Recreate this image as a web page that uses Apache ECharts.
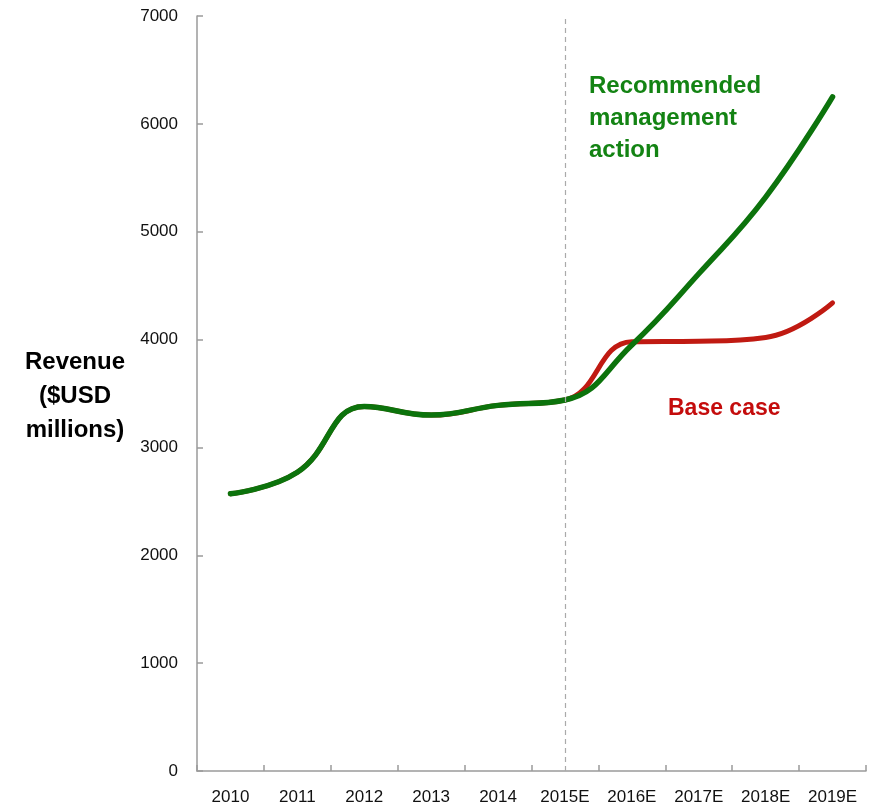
<!DOCTYPE html>
<html>
<head>
<meta charset="utf-8">
<style>
  html, body { margin: 0; padding: 0; background: #fff; }
  #chart { width: 877px; height: 807px; }
</style>
<script src="https://cdn.jsdelivr.net/npm/echarts@6/dist/echarts.min.js"></script>
</head>
<body>
<div id="chart"></div>
<script>
// Years on the horizontal axis (E = estimate)
const years = ['2010', '2011', '2012', '2013', '2014', '2015E', '2016E', '2017E', '2018E', '2019E'];

// Revenue, $USD millions
const baseCase = [2570, 2770, 3380, 3300, 3390, 3440, 3980, 3985, 4020, 4340];
const recommended = [2570, 2770, 3380, 3300, 3390, 3440, 3950, 4610, 5320, 6250];

// Value-axis ticks
const yMin = 0, yMax = 7000, yStep = 1000;

const GREEN = '#0c730c';
const RED = '#c01a12';
const AXIS = '#9a9a9a';
const FONT = '"Liberation Sans", Arial, sans-serif';

const chart = echarts.init(document.getElementById('chart'));
chart.setOption({
  animation: false,
  backgroundColor: '#fff',
  grid: { left: 197, right: 11, top: 16, bottom: 36, containLabel: false },
  xAxis: {
    type: 'category',
    data: years,
    boundaryGap: true,
    axisLine: { lineStyle: { color: AXIS, width: 1.5 } },
    axisTick: { show: true, inside: true, length: 6, alignWithLabel: false, lineStyle: { color: AXIS, width: 1.5 } },
    axisLabel: { color: '#111', fontFamily: FONT, fontSize: 17, margin: 18 },
    splitLine: { show: false }
  },
  yAxis: {
    type: 'value',
    min: yMin, max: yMax, interval: yStep,
    axisLine: { show: true, lineStyle: { color: AXIS, width: 1.5 } },
    axisTick: { show: true, inside: true, length: 6, lineStyle: { color: AXIS, width: 1.5 } },
    axisLabel: { color: '#111', fontFamily: FONT, fontSize: 17, margin: 19, formatter: v => String(v) },
    splitLine: { show: false }
  },
  series: [
    {
      name: 'Base case',
      type: 'line',
      data: baseCase,
      smooth: 0.45,
      symbol: 'none',
      z: 2,
      lineStyle: { color: RED, width: 5, cap: 'round' }
    },
    {
      name: 'Recommended management action',
      type: 'line',
      data: recommended,
      smooth: 0.45,
      symbol: 'none',
      z: 3,
      lineStyle: { color: GREEN, width: 5.5, cap: 'round' },
      markLine: {
        silent: true,
        symbol: 'none',
        label: { show: false },
        lineStyle: { color: '#aaaaaa', type: [5, 4], width: 1.2 },
        data: [{ xAxis: '2015E' }]
      }
    }
  ],
  graphic: [
    {
      type: 'text', x: 75, y: 345,
      style: {
        text: 'Revenue\n($USD\nmillions)',
        fill: '#000', font: 'bold 24px ' + FONT,
        align: 'center', lineHeight: 34
      }
    },
    {
      type: 'text', left: 589, top: 70,
      style: {
        text: 'Recommended\nmanagement\naction',
        fill: '#138313', font: 'bold 24px ' + FONT, lineHeight: 32
      }
    },
    {
      type: 'text', left: 668, top: 397,
      style: { text: 'Base case', fill: '#c40c0c', font: 'bold 23px ' + FONT }
    }
  ]
});
</script>
</body>
</html>
